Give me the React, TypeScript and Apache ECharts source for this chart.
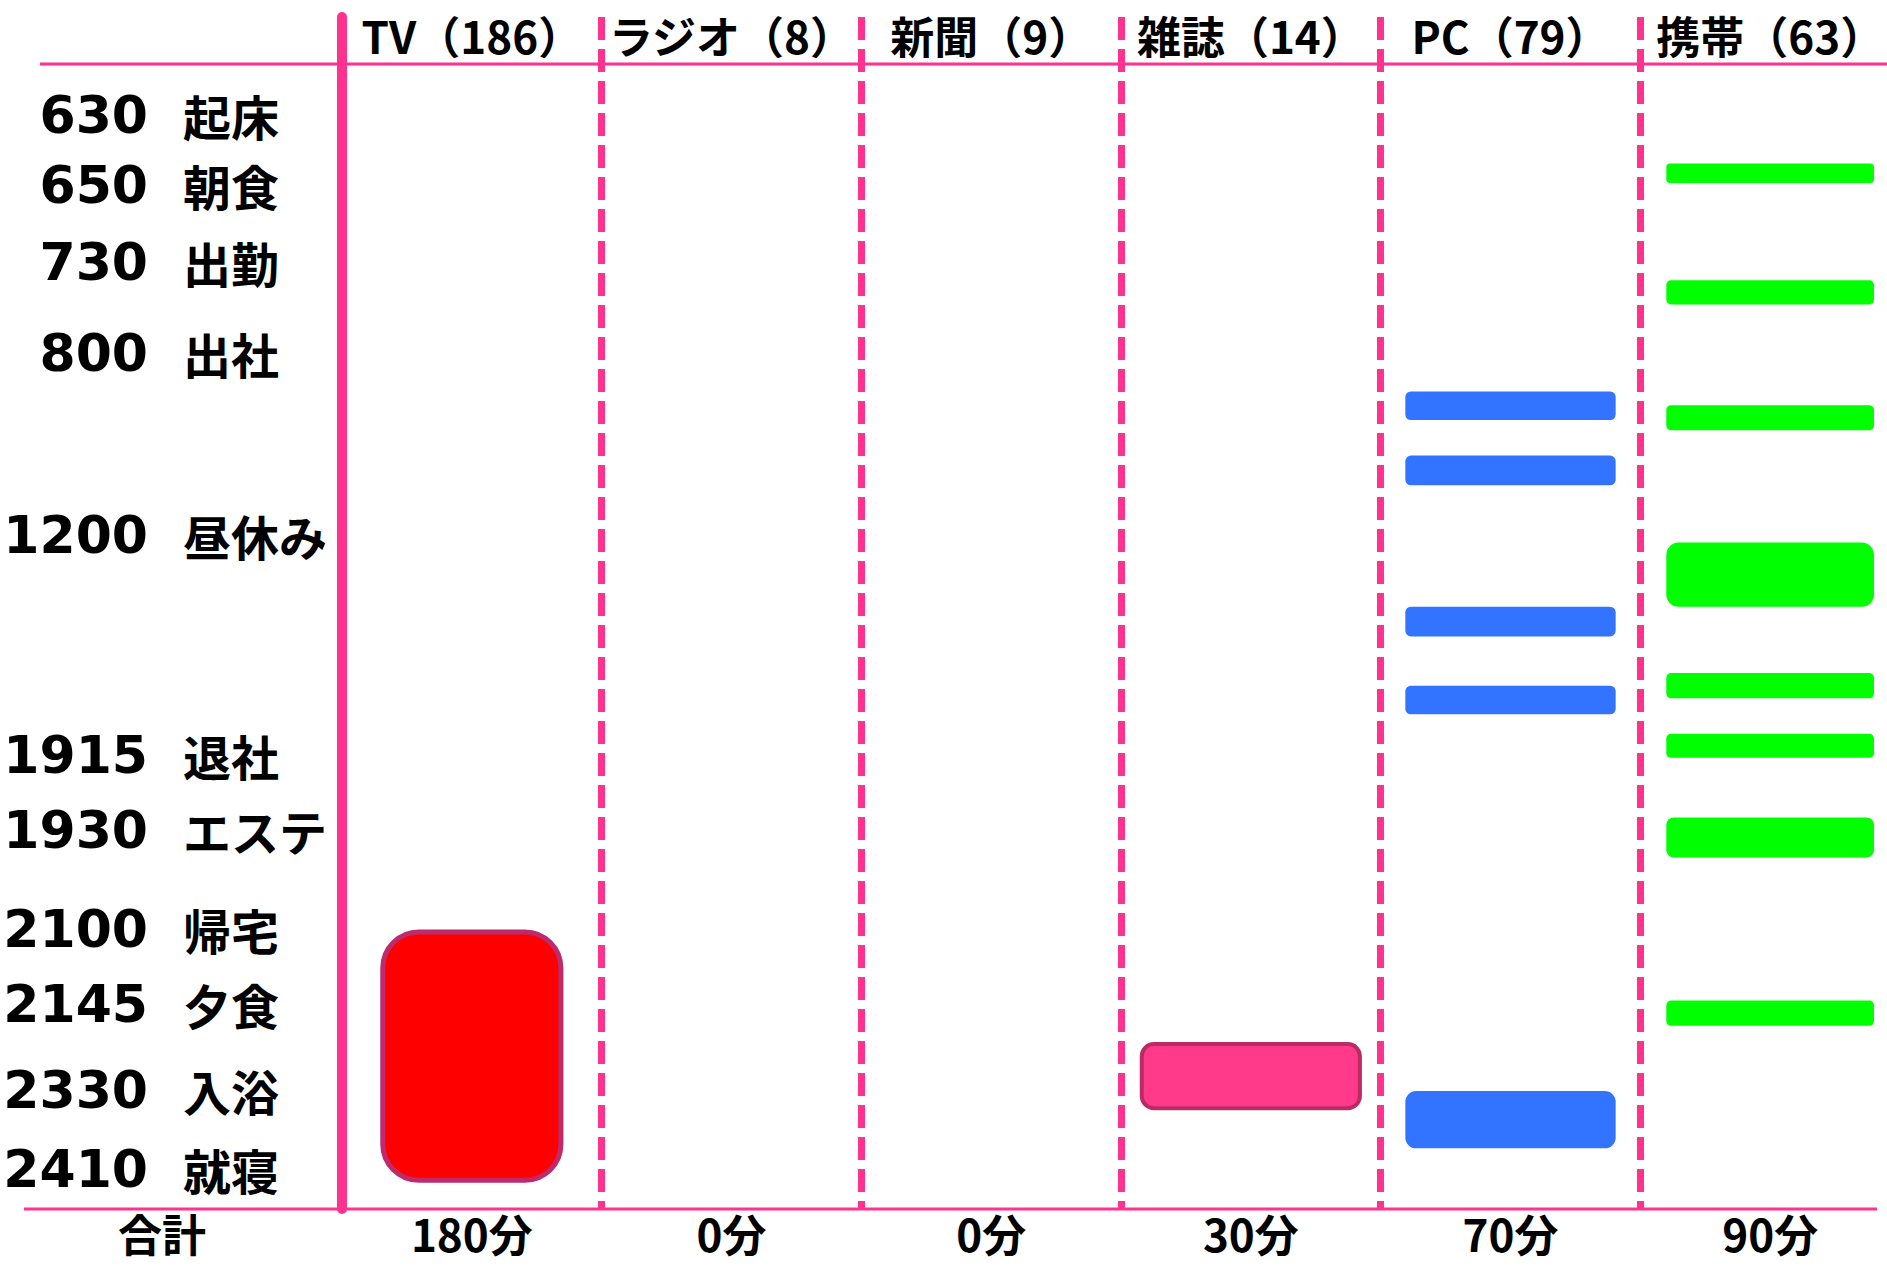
import React, { useEffect, useRef } from 'react';
import * as echarts from 'echarts';

// ---- data ----
const media = ['TV（186）', 'ラジオ（8）', '新聞（9）', '雑誌（14）', 'PC（79）', '携帯（63）'];
const totals = ['180分', '0分', '0分', '30分', '70分', '90分'];
const totalLabel = '合計';

const rowTimes = ['630', '650', '730', '800', '1200', '1915', '1930', '2100', '2145', '2330', '2410'];
const rowNames = ['起床', '朝食', '出勤', '出社', '昼休み', '退社', 'エステ', '帰宅', '夕食', '入浴', '就寝'];
// vertical position of each row in the day column (‰ of the column height)
const rowPos = [44.5, 105.7, 172.9, 252.4, 411.4, 603.5, 669, 755.5, 821, 896, 965];

// usage spans [start, end] in the same ‰ units
const tvUse = [[758, 975]];
const magazineUse = [[856, 912]];
const pcUse = [[286, 311], [342, 368], [474, 500], [543, 568], [897, 947]];
const mobileUse = [[87, 104], [189, 210], [298, 320], [418, 474], [532, 554], [585, 606], [658, 693], [818, 840]];

const PINK = '#FF338F';
const CJK = "'Noto Sans CJK JP'";
const NARROW = "'Liberation Sans Narrow', 'Noto Sans CJK JP'";

function usageSeries(
  name: string,
  col: number,
  spans: number[][],
  fill: string,
  stroke: string | null,
  lineWidth: number,
  widthFrac: number,
) {
  return {
    type: 'custom',
    name,
    xAxisIndex: 0,
    yAxisIndex: 0,
    data: spans.map((s) => [col, s[0], s[1]]),
    encode: { x: 0, y: [1, 2] },
    renderItem: (_params: any, api: any) => {
      const c = api.value(0);
      const p0 = api.coord([c, api.value(1)]);
      const p1 = api.coord([c, api.value(2)]);
      const band = api.size([1, 0])[0];
      const w = band * widthFrac;
      const h = p1[1] - p0[1];
      return {
        type: 'rect',
        shape: { x: p0[0] - w / 2, y: p0[1], width: w, height: h, r: Math.min(h * 0.19, 36) },
        style: stroke ? { fill, stroke, lineWidth } : { fill },
      };
    },
  };
}

const findRow = (v: number) => rowPos.findIndex((p) => Math.abs(p - v) < 1e-6);

export default function App() {
  const ref = useRef<HTMLDivElement>(null);
  useEffect(() => {
    document.body.style.margin = '0';
    const chart = echarts.init(ref.current!, null, { renderer: 'svg' });
    const yBase = {
      type: 'value',
      inverse: true,
      min: -41,
      max: 1000,
      splitLine: { show: false },
      axisTick: { show: false },
    };
    const option: any = {
      animation: false,
      backgroundColor: '#ffffff',
      grid: {
        left: 342,
        width: 1558,
        top: 17,
        height: 1192,
        containLabel: false,
        outerBoundsMode: 'none',
      },
      xAxis: [
        {
          type: 'category',
          position: 'bottom',
          data: totals,
          axisLine: { show: false },
          axisTick: { show: false },
          axisLabel: {
            interval: 0,
            margin: 24,
            verticalAlign: 'middle',
            color: '#000',
            fontFamily: NARROW,
            fontWeight: 'bold',
            fontSize: 44,
            lineHeight: 46,
          },
          splitLine: {
            show: true,
            interval: 0,
            lineStyle: { color: PINK, width: 7, type: [23, 9] },
          },
        },
        {
          type: 'category',
          position: 'top',
          data: media,
          axisLine: { show: false },
          axisTick: { show: false },
          splitLine: { show: false },
          axisLabel: {
            interval: 0,
            inside: true,
            margin: 18,
            verticalAlign: 'middle',
            color: '#000',
            fontFamily: NARROW,
            fontWeight: 'bold',
            fontSize: 44,
            lineHeight: 46,
          },
        },
      ],
      yAxis: [
        {
          ...yBase,
          axisLine: { show: true, onZero: false, lineStyle: { color: PINK, width: 10 } },
          axisLabel: {
            customValues: rowPos,
            margin: 194,
            align: 'right',
            verticalAlign: 'middle',
            color: '#000',
            fontFamily: "'DejaVu Sans'",
            fontWeight: 'bold',
            fontSize: 52,
            formatter: (v: number) => {
              const i = findRow(v);
              return i < 0 ? '' : rowTimes[i];
            },
          },
        },
        {
          ...yBase,
          position: 'left',
          axisLine: { show: false },
          axisLabel: {
            customValues: rowPos,
            margin: 159,
            align: 'left',
            verticalAlign: 'middle',
            color: '#000',
            fontFamily: CJK,
            fontWeight: 'bold',
            fontSize: 48,
            formatter: (v: number) => {
              const i = findRow(v);
              return i < 0 ? '' : rowNames[i];
            },
          },
        },
      ],
      graphic: [
        { type: 'line', shape: { x1: 40, y1: 64, x2: 1887, y2: 64 }, style: { stroke: PINK, lineWidth: 3 }, z: 10 },
        { type: 'line', shape: { x1: 24, y1: 1209, x2: 1877, y2: 1209 }, style: { stroke: PINK, lineWidth: 3 }, z: 10 },
        {
          type: 'text',
          x: 162,
          y: 1233,
          style: {
            text: totalLabel,
            fill: '#000',
            font: `bold 44px ${CJK}`,
            lineHeight: 46,
            align: 'center',
            verticalAlign: 'middle',
          },
        },
      ],
      series: [
        usageSeries('TV', 0, tvUse, '#FF0000', '#BE2B6C', 5, 0.686),
        usageSeries('雑誌', 3, magazineUse, '#FF3A8A', '#BC2A64', 4, 0.84),
        usageSeries('PC', 4, pcUse, '#3273FF', null, 0, 0.81),
        usageSeries('携帯', 5, mobileUse, '#00FF00', null, 0, 0.80),
      ],
    };
    chart.setOption(option);
    return () => chart.dispose();
  }, []);
  return <div ref={ref} style={{ width: 1887, height: 1268 }} />;
}
